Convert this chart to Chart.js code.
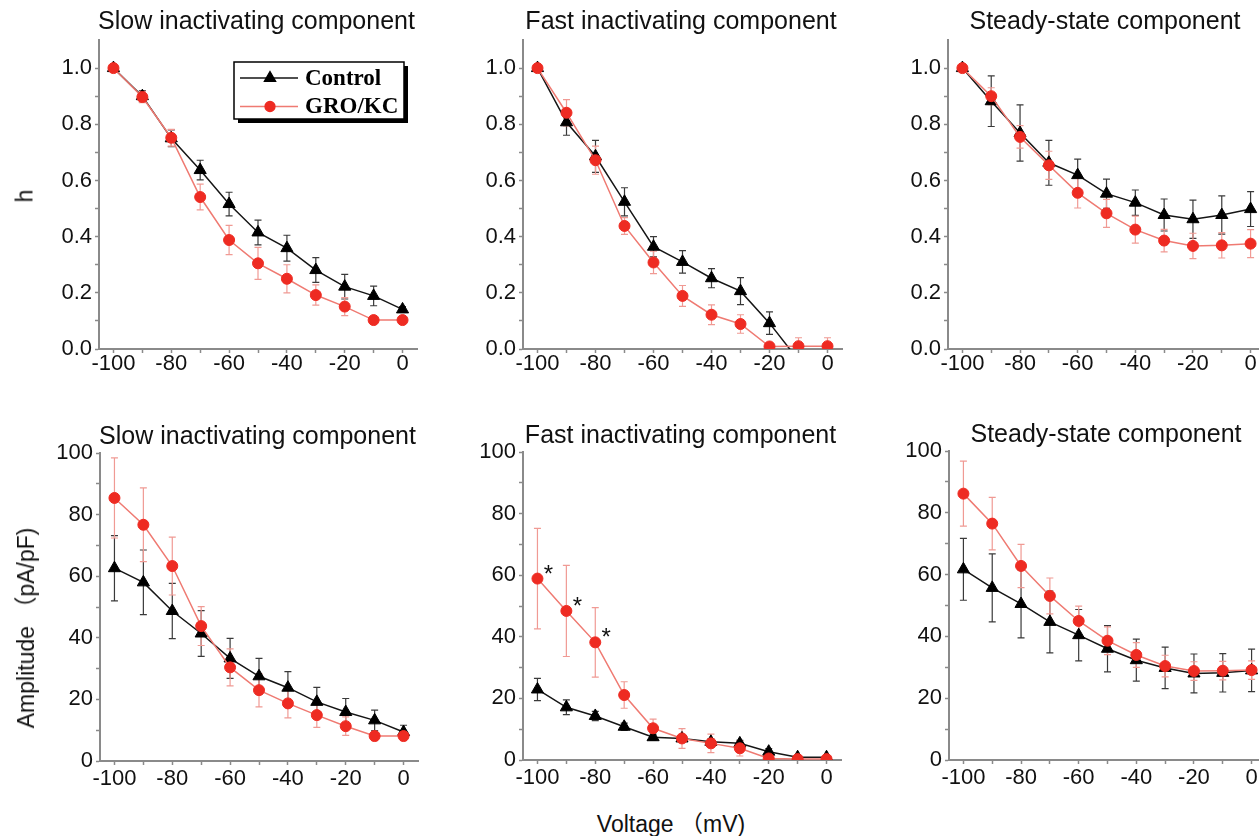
<!DOCTYPE html>
<html>
<head>
<meta charset="utf-8">
<script src="https://cdn.jsdelivr.net/npm/chart.js@4.4.1/dist/chart.umd.min.js"></script>
<style>
  html, body { margin: 0; padding: 0; background: #fff; }
  body { position: relative; width: 1259px; height: 836px; overflow: hidden; }
  canvas { position: absolute; }
  .lab { position: absolute; font-family: "Liberation Sans", Arial, "Noto Sans CJK SC", sans-serif;
         font-size: 23px; color: #111; white-space: nowrap; transform: translate(-50%, -50%); }
  .rot { transform: translate(-50%, -50%) rotate(-90deg); }
</style>
</head>
<body>
<canvas id="p1"></canvas>
<canvas id="p2"></canvas>
<canvas id="p3"></canvas>
<canvas id="p4"></canvas>
<canvas id="p5"></canvas>
<canvas id="p6"></canvas>
<div class="lab rot" style="left:25px; top:196px;">h</div>
<div class="lab rot" style="left:24px; top:628px;">Amplitude （pA/pF)</div>
<div class="lab" style="left:671px; top:822px;">Voltage （mV)</div>

<script>
// ---- data ----
const voltages = [-100, -90, -80, -70, -60, -50, -40, -30, -20, -10, 0];
const xTicks = [-100, -90, -80, -70, -60, -50, -40, -30, -20, -10, 0];
const hTicks = [0, 0.1, 0.2, 0.3, 0.4, 0.5, 0.6, 0.7, 0.8, 0.9, 1.0];
const ampTicks = [0, 10, 20, 30, 40, 50, 60, 70, 80, 90, 100];
const titles = ['Slow inactivating component', 'Fast inactivating component', 'Steady-state component'];
const seriesNames = ['Control', 'GRO/KC'];

// h, slow component
const slowHCtrl = [1.0, 0.90, 0.75, 0.637, 0.516, 0.415, 0.359, 0.281, 0.222, 0.189, 0.141];
const slowHCtrlErr = [0.01, 0.02, 0.03, 0.035, 0.042, 0.044, 0.046, 0.044, 0.044, 0.035, 0.01];
const slowHGro = [1.0, 0.897, 0.752, 0.541, 0.388, 0.305, 0.250, 0.192, 0.151, 0.103, 0.103];
const slowHGroErr = [0.01, 0.02, 0.03, 0.046, 0.052, 0.057, 0.05, 0.036, 0.032, 0.01, 0.01];

// h, fast component (control drops below the axis after -20)
const fastHCtrl = [1.0, 0.807, 0.686, 0.524, 0.364, 0.310, 0.252, 0.206, 0.092, -0.04, -0.04];
const fastHCtrlErr = [0.01, 0.046, 0.057, 0.05, 0.036, 0.04, 0.034, 0.048, 0.04, null, null];
const fastHGro = [1.0, 0.841, 0.672, 0.438, 0.308, 0.189, 0.122, 0.089, 0.009, 0.01, 0.01];
const fastHGroErr = [0.01, 0.047, 0.05, 0.03, 0.04, 0.037, 0.035, 0.033, 0.01, 0.03, 0.03];

// h, steady-state component
const steadyHCtrl = [1.0, 0.882, 0.769, 0.663, 0.619, 0.553, 0.521, 0.477, 0.462, 0.477, 0.498];
const steadyHCtrlErr = [0.01, 0.09, 0.10, 0.08, 0.057, 0.052, 0.045, 0.057, 0.068, 0.068, 0.062];
const steadyHGro = [1.0, 0.90, 0.755, 0.654, 0.556, 0.483, 0.425, 0.386, 0.367, 0.369, 0.375];
const steadyHGroErr = [0.01, 0.03, 0.04, 0.05, 0.054, 0.05, 0.048, 0.04, 0.045, 0.045, 0.05];

// amplitude (pA/pF), slow component
const slowAmpCtrl = [62.6, 58.0, 48.7, 41.4, 33.3, 27.5, 23.8, 19.2, 15.9, 13.2, 9.4];
const slowAmpCtrlErr = [10.6, 10.5, 9, 7.4, 6.5, 5.8, 5.2, 4.7, 4.4, 3.3, 2.2];
const slowAmpGro = [85.4, 76.7, 63.3, 43.8, 30.4, 23.0, 18.7, 14.9, 11.3, 8.1, 8.1];
const slowAmpGroErr = [13, 12, 9.4, 6.3, 6, 5.4, 4.7, 4, 3, 1.5, 1.5];

// amplitude, fast component
const fastAmpCtrl = [22.9, 17.1, 14.3, 10.8, 7.4, 7.0, 5.9, 5.4, 2.7, 0.9, 0.9];
const fastAmpCtrlErr = [3.6, 2.4, 1.5, 1.2, 1, 1, 1, 1, 1, 0.5, 0.5];
const fastAmpGro = [58.9, 48.4, 38.2, 21.1, 10.3, 7.0, 5.4, 3.8, 0.5, 0.3, 0.3];
const fastAmpGroErr = [16.3, 14.8, 11.3, 4.3, 3, 3.2, 3, 2.5, 0.5, 0.5, 0.5];
const fastAmpStars = [0, 1, 2]; // points marked significant

// amplitude, steady-state component
const steadyAmpCtrl = [61.7, 55.7, 50.5, 44.7, 40.4, 36.0, 32.3, 29.8, 28.0, 28.2, 29.0];
const steadyAmpCtrlErr = [10, 11, 11, 10, 8.3, 7.5, 6.8, 6.7, 6.3, 6.2, 6.9];
const steadyAmpGro = [86.2, 76.5, 62.8, 53.1, 45.0, 38.6, 34.0, 30.4, 28.8, 28.9, 29.1];
const steadyAmpGroErr = [10.5, 8.5, 7, 5.8, 4.8, 4.5, 4, 3.5, 3, 3, 3];

// ---- layout / styles ----
const FONT = '"Liberation Sans", Arial, sans-serif';
const Y_W = 72, TOP_PAD = 48, X_H = 45, R_PAD = 6;
const AXIS = '#8a8a8a';
const BLACK = '#151515';
const RED_PT = '#ee2b22';
const RED_LINE = '#ef7a72';
const RED_ERR = '#f09a94';

const toXY = vals => voltages.map((v, i) => ({ x: v, y: vals[i] }));

// error bars drawn under the markers
const errorBars = {
  id: 'errorBars',
  beforeDatasetsDraw(chart) {
    const { ctx, chartArea: a, scales: { y } } = chart;
    ctx.save();
    ctx.beginPath();
    ctx.rect(a.left, a.top - 2, a.right - a.left, a.bottom - a.top + 2);
    ctx.clip();
    chart.data.datasets.forEach((ds, i) => {
      const meta = chart.getDatasetMeta(i);
      ctx.strokeStyle = ds.errColor;
      ctx.lineWidth = 1.2;
      meta.data.forEach((pt, j) => {
        const e = ds.errors[j];
        const v = ds.data[j].y;
        if (e == null || v < y.min) return;
        const top = y.getPixelForValue(v + e);
        const bot = y.getPixelForValue(v - e);
        ctx.beginPath();
        ctx.moveTo(pt.x, top); ctx.lineTo(pt.x, bot);
        ctx.moveTo(pt.x - 3.5, top); ctx.lineTo(pt.x + 3.5, top);
        ctx.moveTo(pt.x - 3.5, bot); ctx.lineTo(pt.x + 3.5, bot);
        ctx.stroke();
      });
    });
    ctx.restore();
  }
};

// panel title, legend box and significance stars
const panelDecor = {
  id: 'panelDecor',
  afterDraw(chart, args, opts) {
    const { ctx, chartArea: a } = chart;
    ctx.save();
    ctx.fillStyle = '#111';
    ctx.font = '25px ' + FONT;
    ctx.textAlign = 'center';
    ctx.textBaseline = 'middle';
    ctx.fillText(opts.title, (a.left + a.right) / 2 - 1.5, a.top - opts.titleDy);

    if (opts.stars) {
      const meta = chart.getDatasetMeta(1);
      ctx.font = '24px ' + FONT;
      ctx.textBaseline = 'alphabetic';
      opts.stars.forEach(idx => {
        const p = meta.data[idx];
        ctx.fillText('*', p.x + 11, p.y - 10 + 13);
      });
    }

    if (opts.legend) {
      const bx = a.right - 183, by = a.top + 22, bw = 170, bh = 57;
      ctx.fillStyle = '#000';
      ctx.fillRect(bx + 4, by + 4, bw, bh);
      ctx.fillStyle = '#fff';
      ctx.fillRect(bx, by, bw, bh);
      ctx.strokeStyle = '#000';
      ctx.lineWidth = 1.5;
      ctx.strokeRect(bx, by, bw, bh);
      chart.data.datasets.forEach((ds, i) => {
        const ly = by + 16 + i * 28.5;
        ctx.strokeStyle = ds.borderColor;
        ctx.lineWidth = 1.3;
        ctx.beginPath();
        ctx.moveTo(bx + 6, ly); ctx.lineTo(bx + 64, ly);
        ctx.stroke();
        ctx.fillStyle = ds.pointBackgroundColor;
        ctx.strokeStyle = ds.pointBorderColor;
        Chart.helpers.drawPoint(ctx, { pointStyle: ds.pointStyle, radius: ds.pointRadius - 0.5, rotation: 0, borderWidth: 1 }, bx + 36, ly);
        ctx.fillStyle = '#000';
        ctx.font = 'bold 23px "Liberation Serif", "Times New Roman", serif';
        ctx.textAlign = 'left';
        ctx.textBaseline = 'middle';
        ctx.fillText(ds.label, bx + 71, ly + 1);
      });
    }
    ctx.restore();
  }
};

function makePanel(p) {
  const cv = document.getElementById(p.id);
  const a = p.area;
  cv.style.left = (a.left - Y_W) + 'px';
  cv.style.top = (a.top - TOP_PAD) + 'px';
  cv.width = a.right - a.left + Y_W + R_PAD;
  cv.height = a.bottom - a.top + TOP_PAD + X_H;

  const isH = p.yMax < 2;
  const yTicks = isH ? hTicks : ampTicks;

  new Chart(cv.getContext('2d'), {
    type: 'line',
    data: {
      datasets: [
        {
          label: seriesNames[0],
          data: toXY(p.ctrl),
          errors: p.ctrlErr,
          errColor: '#3a3a3a',
          borderColor: BLACK,
          borderWidth: 1.5,
          pointStyle: 'triangle',
          pointRadius: 7,
          pointBackgroundColor: '#000',
          pointBorderColor: '#000',
          pointBorderWidth: 1,
          order: 2,
          clip: p.ctrlClip
        },
        {
          label: seriesNames[1],
          data: toXY(p.gro),
          errors: p.groErr,
          errColor: RED_ERR,
          borderColor: RED_LINE,
          borderWidth: 1.5,
          pointStyle: 'circle',
          pointRadius: 5.5,
          pointBackgroundColor: RED_PT,
          pointBorderColor: RED_PT,
          pointBorderWidth: 1,
          order: 1
        }
      ]
    },
    options: {
      responsive: false,
      animation: false,
      devicePixelRatio: 1,
      layout: { padding: { top: TOP_PAD, right: R_PAD, left: 0, bottom: 0 } },
      plugins: {
        legend: { display: false },
        tooltip: { enabled: false },
        panelDecor: { title: p.title, titleDy: p.titleDy, legend: p.legend, stars: p.stars }
      },
      scales: {
        x: {
          type: 'linear',
          min: -105,
          max: 5,
          afterBuildTicks: s => { s.ticks = xTicks.map(v => ({ value: v })); },
          afterFit: s => { s.height = X_H; },
          ticks: {
            autoSkip: false,
            maxRotation: 0,
            padding: p.xPad,
            color: '#111',
            font: { family: FONT, size: 22 },
            callback: v => (v % 20 === 0 ? String(v) : '')
          },
          grid: { drawOnChartArea: false, drawTicks: true, tickLength: 4, color: AXIS, tickWidth: 1.5 },
          border: { display: true, color: AXIS, width: 2 }
        },
        y: {
          min: 0,
          max: p.yMax,
          afterBuildTicks: s => { s.ticks = yTicks.map(v => ({ value: v })); },
          afterFit: s => { s.width = Y_W; },
          ticks: {
            autoSkip: false,
            padding: 3,
            color: '#111',
            font: { family: FONT, size: 22 },
            callback: v => {
              if (isH) return Math.round(v * 10) % 2 === 0 ? v.toFixed(1) : '';
              return v % 20 === 0 ? String(v) : '';
            }
          },
          grid: { drawOnChartArea: false, drawTicks: true, tickLength: 4, color: AXIS, tickWidth: 1.5 },
          border: { display: true, color: AXIS, width: 2 }
        }
      }
    },
    plugins: [errorBars, panelDecor]
  });
}

const panels = [
  { id: 'p1', area: { left: 99, top: 40, right: 419, bottom: 349 }, yMax: 1.1, title: titles[0], titleDy: 18, xPad: -2,
    ctrl: slowHCtrl, ctrlErr: slowHCtrlErr, gro: slowHGro, groErr: slowHGroErr, legend: true },
  { id: 'p2', area: { left: 523, top: 40, right: 844, bottom: 349 }, yMax: 1.1, title: titles[1], titleDy: 18, xPad: -2,
    ctrl: fastHCtrl, ctrlErr: fastHCtrlErr, gro: fastHGro, groErr: fastHGroErr, ctrlClip: 0 },
  { id: 'p3', area: { left: 948, top: 40, right: 1267, bottom: 349 }, yMax: 1.1, title: titles[2], titleDy: 18, xPad: -2,
    ctrl: steadyHCtrl, ctrlErr: steadyHCtrlErr, gro: steadyHGro, groErr: steadyHGroErr },
  { id: 'p4', area: { left: 100, top: 453, right: 420, bottom: 761 }, yMax: 100, title: titles[0], titleDy: 16, xPad: 1,
    ctrl: slowAmpCtrl, ctrlErr: slowAmpCtrlErr, gro: slowAmpGro, groErr: slowAmpGroErr },
  { id: 'p5', area: { left: 523, top: 452, right: 843, bottom: 760 }, yMax: 100, title: titles[1], titleDy: 16, xPad: 1,
    ctrl: fastAmpCtrl, ctrlErr: fastAmpCtrlErr, gro: fastAmpGro, groErr: fastAmpGroErr, stars: fastAmpStars },
  { id: 'p6', area: { left: 949, top: 451, right: 1268, bottom: 760 }, yMax: 100, title: titles[2], titleDy: 16, xPad: 1,
    ctrl: steadyAmpCtrl, ctrlErr: steadyAmpCtrlErr, gro: steadyAmpGro, groErr: steadyAmpGroErr }
];

panels.forEach(makePanel);
</script>
</body>
</html>
